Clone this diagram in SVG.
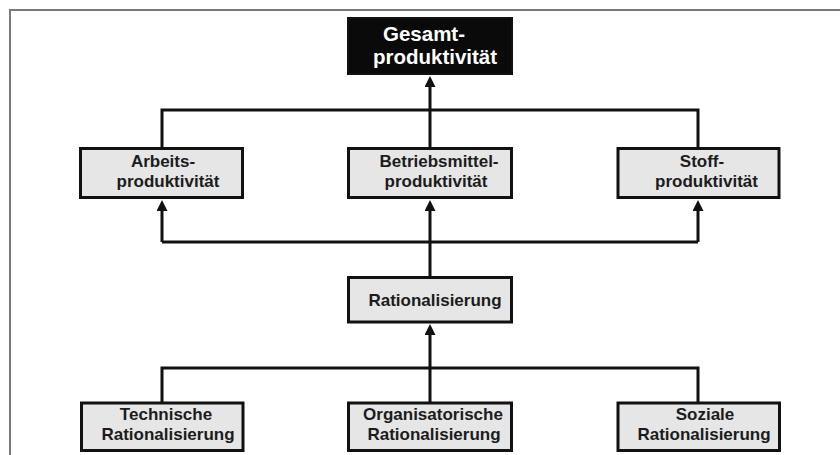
<svg xmlns="http://www.w3.org/2000/svg" width="840" height="455" viewBox="0 0 840 455">
  <defs>
    <marker id="arr" markerUnits="userSpaceOnUse" markerWidth="11" markerHeight="11" refX="4" refY="5.5" orient="auto">
      <path d="M0,0 L11,5.5 L0,11 z" fill="#111"/>
    </marker>
    <style>
      .box{fill:#e6e6e6;stroke:#111;stroke-width:3}
      .dark{fill:#0a0a0a;stroke:#111;stroke-width:2}
      .t{font-family:"Liberation Sans",Arial,sans-serif;font-weight:bold;font-size:17px;fill:#1c1c1c;text-anchor:middle}
      .tw{font-family:"Liberation Sans",Arial,sans-serif;font-weight:bold;font-size:20.5px;fill:#ffffff;text-anchor:middle}
      .c{fill:none;stroke:#111;stroke-width:3}
      .ca{fill:none;stroke:#111;stroke-width:3;marker-end:url(#arr)}
    </style>
  </defs>
  <rect width="840" height="455" fill="#ffffff"/>
  <path d="M10,455 V10 H840" fill="none" stroke="#7a7a7a" stroke-width="2"/>

  <g id="connectors">
    <path class="ca" d="M430,110 V83"/>
    <path class="c" d="M162,148 V110 H698 V148"/>
    <path class="c" d="M430,110 V148"/>
    <path class="ca" d="M162,242 V207"/>
    <path class="c" d="M162,242 H698"/>
    <path class="ca" d="M698,242 V207"/>
    <path class="ca" d="M430,277 V207"/>
    <path class="ca" d="M430,368 V331"/>
    <path class="c" d="M162,403 V368 H698 V403"/>
    <path class="c" d="M430,368 V403"/>
  </g>

  <g id="gesamt">
    <rect class="dark" x="348" y="18" width="164" height="56"/>
    <text class="tw" x="424" y="41">Gesamt-</text>
    <text class="tw" x="435" y="64">produktivität</text>
  </g>

  <g id="arbeit">
    <rect class="box" x="80.5" y="148.5" width="162" height="49"/>
    <text class="t" x="163" y="167">Arbeits-</text>
    <text class="t" x="168" y="187">produktivität</text>
  </g>

  <g id="betriebsmittel">
    <rect class="box" x="348.5" y="148.5" width="163" height="49"/>
    <text class="t" x="439" y="167">Betriebsmittel-</text>
    <text class="t" x="436" y="187">produktivität</text>
  </g>

  <g id="stoff">
    <rect class="box" x="618" y="148.5" width="161" height="49"/>
    <text class="t" x="702" y="167">Stoff-</text>
    <text class="t" x="706.5" y="187">produktivität</text>
  </g>

  <g id="rationalisierung">
    <rect class="box" x="348.5" y="277.5" width="163" height="44.5"/>
    <text class="t" x="435" y="306">Rationalisierung</text>
  </g>

  <g id="technisch">
    <rect class="box" x="81.5" y="403" width="161.5" height="47.5"/>
    <text class="t" x="166" y="420">Technische</text>
    <text class="t" x="168" y="440">Rationalisierung</text>
  </g>

  <g id="organisatorisch">
    <rect class="box" x="348.5" y="403" width="163" height="47.5"/>
    <text class="t" x="433" y="420">Organisatorische</text>
    <text class="t" x="434" y="440">Rationalisierung</text>
  </g>

  <g id="sozial">
    <rect class="box" x="618" y="403" width="161.5" height="47.5"/>
    <text class="t" x="705" y="420">Soziale</text>
    <text class="t" x="704" y="440">Rationalisierung</text>
  </g>
</svg>
